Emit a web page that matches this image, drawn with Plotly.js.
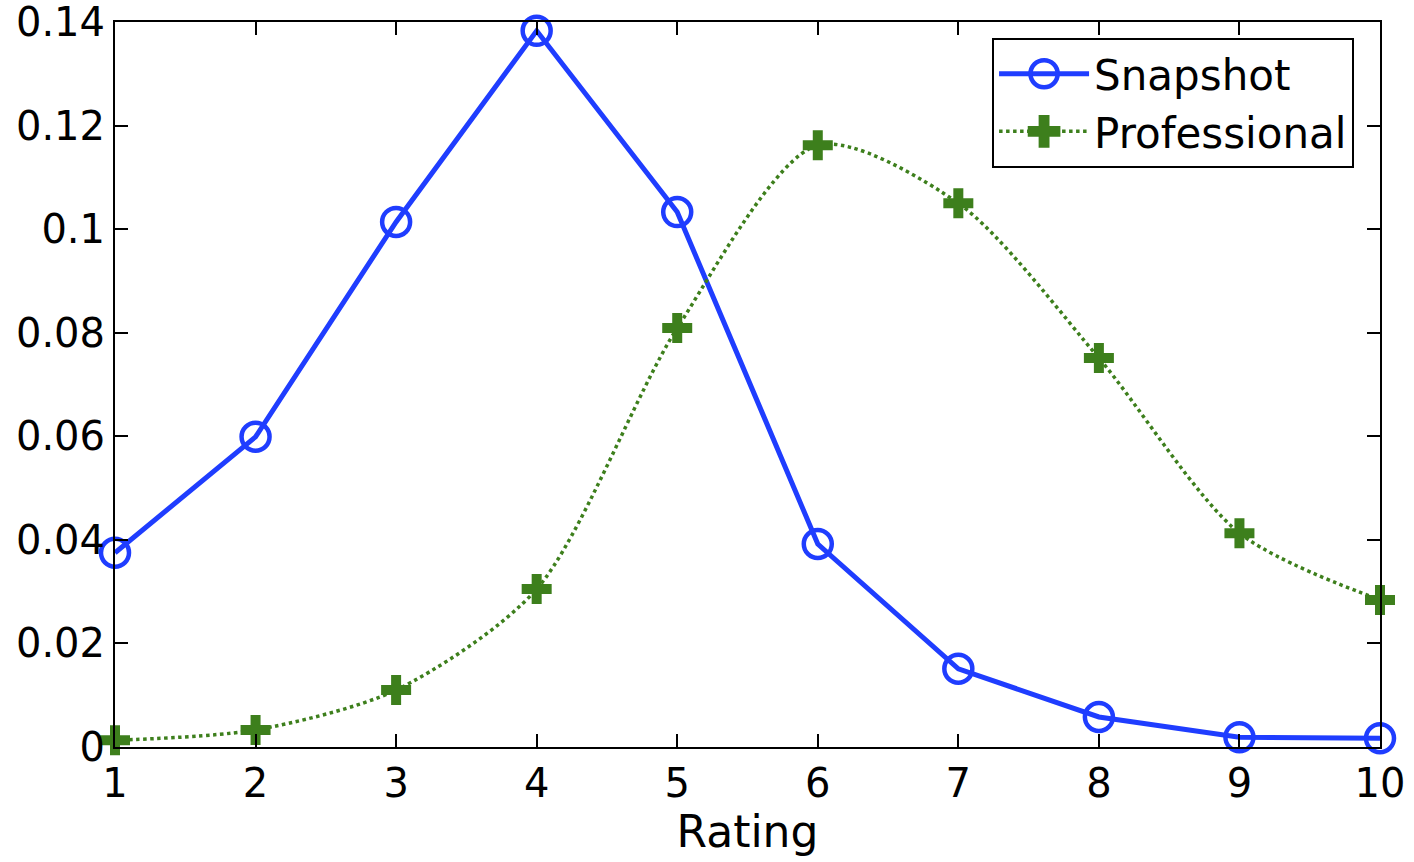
<!DOCTYPE html>
<html>
<head>
<meta charset="utf-8">
<script src="https://cdn.plot.ly/plotly-3.0.1.min.js"></script>
<style>html,body{margin:0;padding:0;background:#fff;}#chart{width:1414px;height:862px;}</style>
</head>
<body>
<div id="chart"></div>
<script>
var ratings = [1, 2, 3, 4, 5, 6, 7, 8, 9, 10];
var snapshot = [0.0375, 0.0599, 0.1014, 0.1383, 0.1033, 0.0392, 0.0151, 0.0058, 0.0019, 0.0017];
var professional = [0.0013, 0.0033, 0.0110, 0.0305, 0.0809, 0.1162, 0.1050, 0.0751, 0.0413, 0.0284];
var yTicks = [0, 0.02, 0.04, 0.06, 0.08, 0.1, 0.12, 0.14];
var yTickLabels = ['0', '0.02', '0.04', '0.06', '0.08', '0.1', '0.12', '0.14'];

var fontFam = 'DejaVu Sans, Liberation Sans, Arial, sans-serif';

var traces = [
  {
    x: ratings, y: snapshot, name: 'Snapshot', type: 'scatter', mode: 'lines+markers',
    line: {color: '#1f3dff', width: 5},
    marker: {symbol: 'circle-open', size: 28, color: '#1f3dff', line: {width: 4.5, color: '#1f3dff'}},
    cliponaxis: false
  },
  {
    x: ratings, y: professional, name: 'Professional', type: 'scatter', mode: 'lines+markers',
    line: {color: '#3d7f1c', width: 3.5, dash: 'dot', shape: 'spline', smoothing: 0.8},
    marker: {symbol: 'cross', size: 25, color: '#3d7f1c', line: {width: 0}},
    cliponaxis: false
  }
];

var layout = {
  width: 1414, height: 862,
  margin: {l: 115, r: 34, t: 22, b: 115},
  paper_bgcolor: '#fff', plot_bgcolor: '#fff',
  font: {family: fontFam, size: 40, color: '#000'},
  showlegend: true,
  legend: {
    x: 0.9795, y: 0.978, xanchor: 'right', yanchor: 'top',
    bgcolor: '#fff', bordercolor: '#000', borderwidth: 2,
    font: {family: fontFam, size: 42, color: '#000'},
    itemwidth: 90, tracegroupgap: 0
  },
  xaxis: {
    range: [1, 10], tickvals: ratings, ticktext: ratings.map(String),
    showgrid: false, zeroline: false,
    showline: true, linecolor: '#000', linewidth: 2, mirror: 'ticks',
    ticks: 'inside', ticklen: 13, tickwidth: 2, tickcolor: '#000',
    ticklabeloverflow: 'allow',
    tickfont: {family: fontFam, size: 40, color: '#000'},
    title: {text: 'Rating', font: {family: fontFam, size: 44, color: '#000'}, standoff: 8}
  },
  yaxis: {
    range: [0, 0.140005], tickvals: yTicks, ticktext: yTickLabels,
    showgrid: false, zeroline: false,
    showline: true, linecolor: '#000', linewidth: 2, mirror: 'ticks',
    ticks: 'inside', ticklen: 13, tickwidth: 2, tickcolor: '#000',
    ticklabeloverflow: 'allow',
    tickfont: {family: fontFam, size: 40, color: '#000'}
  }
};

Plotly.newPlot('chart', traces, layout, {displayModeBar: false, staticPlot: true}).then(function () {
  // enlarge legend symbols to match the plotted marker size
  var pts = document.querySelectorAll('.legend .legendpoints path.scatterpts');
  pts.forEach(function (p) {
    var t = p.getAttribute('transform') || '';
    p.setAttribute('transform', t + ' scale(1.7)');
    var sw = parseFloat(p.style.strokeWidth || '0');
    if (sw > 0) p.style.strokeWidth = (sw / 1.7) + 'px';
  });
});
</script>
</body>
</html>
